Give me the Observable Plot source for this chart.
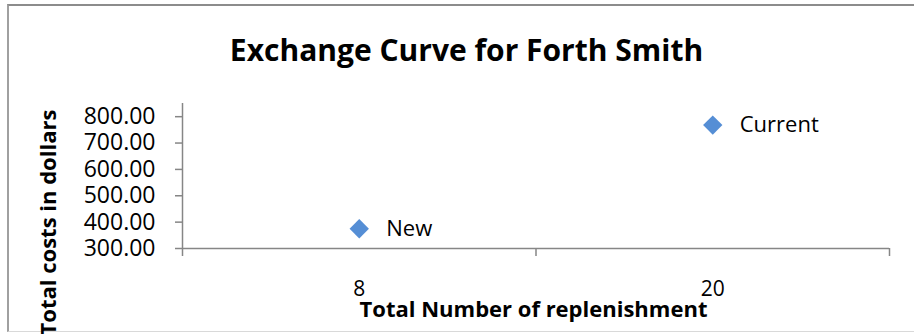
<!DOCTYPE html>
<html>
<head>
<meta charset="utf-8">
<script src="https://cdn.jsdelivr.net/npm/d3@7"></script>
<script src="https://cdn.jsdelivr.net/npm/@observablehq/plot@0.6"></script>
<style>
  body { margin: 0; background: #fff; }
  #chart { position: relative; width: 914px; height: 334px; overflow: hidden; }
  #chart svg { position: absolute; left: 0; top: 0; }
  #border {
    position: absolute; left: 7px; top: 4px; width: 920px; height: 325px;
    border-top: 2px solid #8c8c8c; border-left: 2px solid #a0a0a0; border-bottom: 1px solid #d9d9d9;
  }
</style>
</head>
<body>
<div id="chart"><div id="border"></div></div>
<script>
// Replenishment counts (categories), total cost of each policy, and point labels
const replenishments = ["8", "20"];
const totalCosts = [375, 768];
const policies = ["New", "Current"];
const costTicks = [300, 400, 500, 600, 700, 800];

const chartTitle = "Exchange Curve for Forth Smith";
const xTitle = "Total Number of replenishment";
const yTitle = "Total costs in dollars";

// Each category sits in the middle of its own slot on the x axis
const points = replenishments.map((r, i) => ({
  slot: i + 0.5,
  replenishments: r,
  cost: totalCosts[i],
  policy: policies[i]
}));
const n = replenishments.length;

const axisGray = "#868686";
const markerBlue = "#558ED5";

const chart = Plot.plot({
  width: 914,
  height: 334,
  marginLeft: 182,
  marginRight: 25,
  marginTop: 103,
  marginBottom: 86,
  style: {
    fontFamily: "'Open Sans', sans-serif",
    fontSize: "23px",
    color: "#000",
    background: "transparent",
    overflow: "visible"
  },
  x: {type: "linear", domain: [0, n], label: null},
  y: {domain: [300, 850], label: null},
  marks: [
    // axis lines
    Plot.ruleY([300], {stroke: axisGray, strokeWidth: 1.5}),
    Plot.ruleX([0], {stroke: axisGray, strokeWidth: 1.5}),
    // cost axis
    Plot.axisY({
      ticks: costTicks, tickFormat: d3.format(".2f"), tickSize: 7, tickPadding: 20,
      stroke: axisGray, strokeWidth: 1.5, fill: "#000", fontSize: 23, label: null
    }),
    // slot boundary ticks
    Plot.axisX({
      ticks: d3.range(n + 1), tickSize: 8, tickFormat: () => "",
      stroke: axisGray, strokeWidth: 1.5, label: null
    }),
    // category labels
    Plot.axisX({
      ticks: points.map((d) => d.slot), tickSize: 0, tickPadding: 33,
      tickFormat: (v) => replenishments[Math.floor(v)],
      fill: "#000", fontSize: 21, label: null
    }),
    // policy markers and their labels
    Plot.dot(points, {x: "slot", y: "cost", symbol: "diamond2", r: 8.7, fill: markerBlue}),
    Plot.text(points, {x: "slot", y: "cost", text: "policy", dx: 27, textAnchor: "start", fontSize: 22}),
    // titles
    Plot.text([chartTitle], {
      text: (d) => d, frameAnchor: "top", textAnchor: "middle", dx: -69.5, dy: -43, lineAnchor: "bottom",
      fontSize: 30, fontWeight: "bold"
    }),
    Plot.text([xTitle], {
      text: (d) => d, frameAnchor: "bottom", textAnchor: "middle", dx: -2.5, dy: 68, lineAnchor: "bottom",
      fontSize: 22, fontWeight: "bold"
    }),
    Plot.text([yTitle], {
      text: (d) => d, frameAnchor: "left", textAnchor: "middle", rotate: -90, dx: -127, dy: 46.5,
      lineAnchor: "bottom", fontSize: 22, fontWeight: "bold"
    })
  ]
});

document.getElementById("chart").appendChild(chart);
</script>
</body>
</html>
